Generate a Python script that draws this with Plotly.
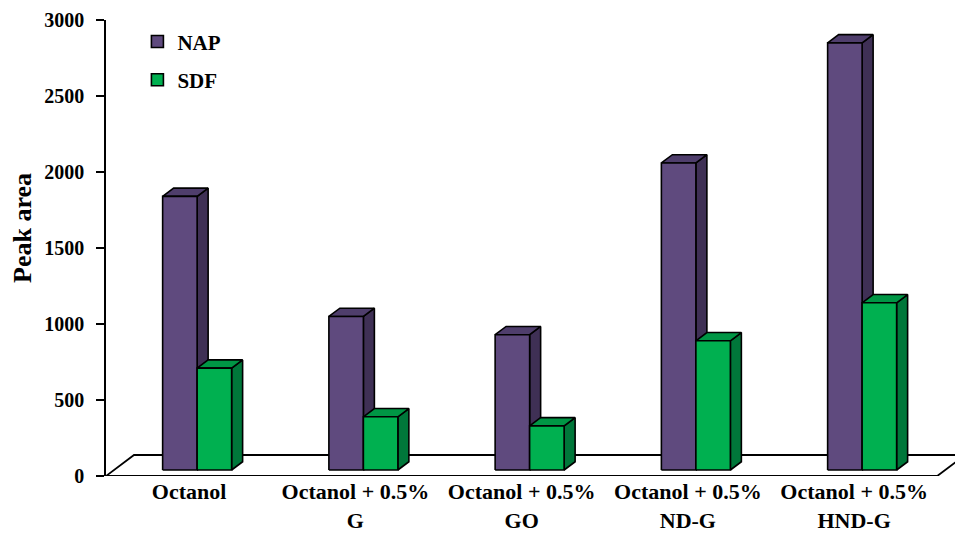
import plotly.graph_objects as go

# Peak areas for each extraction solvent
categories = ["Octanol", "Octanol + 0.5%<br>G", "Octanol + 0.5%<br>GO",
              "Octanol + 0.5%<br>ND-G", "Octanol + 0.5%<br>HND-G"]
nap = [1800, 1010, 890, 2020, 2810]
sdf = [670, 350, 290, 850, 1100]
y_ticks = [0, 500, 1000, 1500, 2000, 2500, 3000]

# Colours: front, side, top
NAP_COL = ("#5F4A7E", "#3F3055", "#4F3E6C")
SDF_COL = ("#00B050", "#00773A", "#009645")

W, H = 955, 536
M_L, M_R, M_T, M_B = 106, 0, 20, 60
PX_X = 166.25                     # pixels per category
PX_Y = (H - M_T - M_B) / 3000.0   # pixels per value unit
SLOPE = 0.75                      # oblique depth direction (dy/dx)
BAR_W = 0.2075                    # bar width in category units
D_FRONT, D_BACK, D_FLOOR = 8.0, 19.0, 28.0  # depths in px


def proj(x, v, d):
    """Oblique projection of (category x, value v, depth d px) onto the axes."""
    return x + d / PX_X, v + SLOPE * d / PX_Y


def poly(pts, color, lw=1.6):
    xs, ys = zip(*[proj(*p) for p in pts])
    return go.Scatter(x=list(xs) + [xs[0]], y=list(ys) + [ys[0]], mode="lines",
                      fill="toself", fillcolor=color,
                      line=dict(color="black", width=lw),
                      hoverinfo="skip", showlegend=False, cliponaxis=False)


def box(x0, x1, v, cols):
    front, side, top = cols
    d0, d1 = D_FRONT, D_BACK
    return [
        poly([(x1, 0, d0), (x1, 0, d1), (x1, v, d1), (x1, v, d0)], side),
        poly([(x0, v, d0), (x1, v, d0), (x1, v, d1), (x0, v, d1)], top),
        poly([(x0, 0, d0), (x1, 0, d0), (x1, v, d0), (x0, v, d0)], front),
    ]


n = len(categories)
traces = [poly([(-0.5, 0, 0), (n - 0.5, 0, 0), (n - 0.5, 0, D_FLOOR),
                (-0.5, 0, D_FLOOR)], "white", lw=1.8)]
for i in range(n):
    traces += box(i - BAR_W, i, nap[i], NAP_COL)
    traces += box(i, i + BAR_W, sdf[i], SDF_COL)

# legend swatches
for name, cols, grp in (("NAP", NAP_COL, "a"), ("SDF", SDF_COL, "b")):
    traces.append(go.Bar(x=[None], y=[None], name=name, legendgroup=grp,
                         marker=dict(color=cols[0],
                                     line=dict(color="black", width=1.6))))

fig = go.Figure(traces)

FONT = dict(family="Liberation Serif, Times New Roman, serif", color="black",
            weight="bold")
plot_w = W - M_L - M_R
fig.update_layout(
    width=W, height=H,
    margin=dict(l=M_L, r=M_R, t=M_T, b=M_B),
    paper_bgcolor="white", plot_bgcolor="white",
    font=FONT,
    barmode="overlay",
    legend=dict(x=0.037, y=0.997, xanchor="left", yanchor="top",
                font=dict(size=21, **FONT), tracegroupgap=8,
                bgcolor="rgba(0,0,0,0)"),
    xaxis=dict(range=[-0.5, -0.5 + plot_w / PX_X], tickvals=list(range(n)),
               ticktext=categories, showgrid=False, zeroline=False,
               showline=False, ticks="", tickfont=dict(size=22, **FONT)),
    yaxis=dict(range=[0, 3000], tickvals=y_ticks, showgrid=False,
               zeroline=False, showline=True, linecolor="black", linewidth=1.6,
               ticks="outside", ticklen=8, tickwidth=1.6, tickcolor="black",
               ticklabelstandoff=8, tickfont=dict(size=20, **FONT)),
    annotations=[dict(text="Peak area", xref="paper", yref="paper",
                      x=-(M_L - 22) / plot_w, y=1 - (228 - M_T) / (H - M_T - M_B),
                      xanchor="center", yanchor="middle", textangle=-90,
                      showarrow=False, font=dict(size=26, **FONT))],
)

fig.write_html("out.html")
